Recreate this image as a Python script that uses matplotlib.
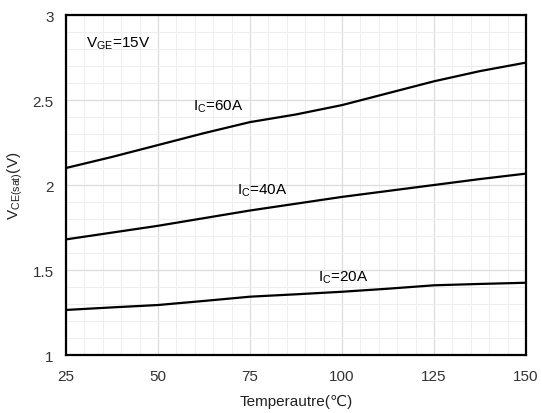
import matplotlib
matplotlib.use("Agg")
import matplotlib.pyplot as plt
import numpy as np

plt.rcParams['font.family'] = ['Liberation Sans', 'DejaVu Sans']

temp = [25, 37.5, 50, 62.5, 75, 87.5, 100, 112.5, 125, 137.5, 150]
vce_60 = [2.10, 2.165, 2.235, 2.305, 2.37, 2.415, 2.47, 2.54, 2.61, 2.67, 2.72]
vce_40 = [1.68, 1.72, 1.76, 1.805, 1.85, 1.89, 1.93, 1.965, 2.0, 2.035, 2.067]
vce_20 = [1.265, 1.28, 1.294, 1.318, 1.343, 1.357, 1.372, 1.39, 1.41, 1.418, 1.425]

xticks = [25, 50, 75, 100, 125, 150]
yticks = [1, 1.5, 2, 2.5, 3]
ytick_labels = ['1', '1.5', '2', '2.5', '3']

fig = plt.figure(figsize=(5.42, 4.14), dpi=100)
ax = fig.add_axes([66/542, 1-356/414, 460/542, 340/414])

for v in [vce_60, vce_40, vce_20]:
    ax.plot(temp, v, color='black', lw=1.6, zorder=3)

ax.set_xlim(25, 150)
ax.set_ylim(1, 3)
ax.set_xticks(xticks)
ax.set_yticks(yticks)
ax.set_yticklabels(ytick_labels)
ax.set_xticks(np.arange(25, 151, 5), minor=True)
ax.set_yticks(np.arange(1, 3.01, 0.1), minor=True)
ax.grid(which='major', color='#dcdcdc', lw=0.9, zorder=0)
ax.grid(which='minor', color='#eeeeee', lw=0.7, zorder=0)
ax.tick_params(axis='x', which='both', length=0, labelsize=11, colors='#333333', pad=10)
ax.tick_params(axis='y', which='both', length=0, labelsize=11, colors='#333333', pad=9)
for s in ax.spines.values():
    s.set_linewidth(1.6)
    s.set_color('black')

ax.set_xlabel('Temperautre(\u2103)', fontsize=11, color='#222222', labelpad=8)
ax.set_ylabel('V$_{\\mathregular{CE(sat)}}$(V)', fontsize=11, color='#222222', labelpad=5)

ax.text(30.5, 2.84, 'V$_{\\mathregular{GE}}$=15V', fontsize=11, va='center')
ax.text(59.5, 2.465, 'I$_{\\mathregular{C}}$=60A', fontsize=11, va='center')
ax.text(71.5, 1.975, 'I$_{\\mathregular{C}}$=40A', fontsize=11, va='center')
ax.text(93.5, 1.46, 'I$_{\\mathregular{C}}$=20A', fontsize=11, va='center')

fig.savefig('out.png', dpi=100)
